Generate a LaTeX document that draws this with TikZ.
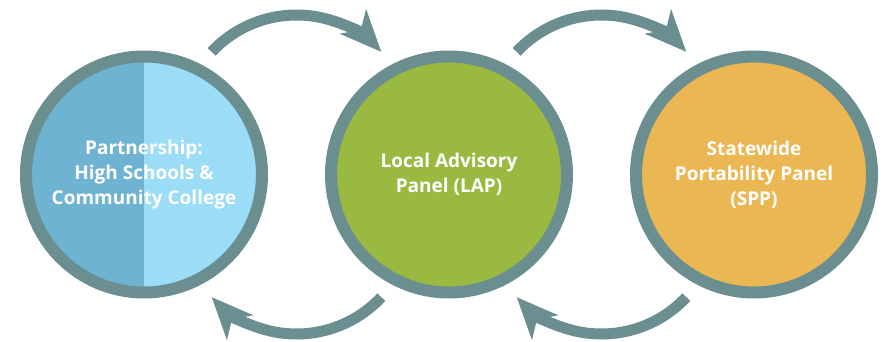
\documentclass[tikz,border=0pt]{standalone}
\usepackage{fontspec}
\setmainfont{Open Sans}
\usetikzlibrary{positioning,calc,arrows.meta}
\definecolor{ringgrey}{HTML}{6B8E91}
\definecolor{hsdark}{HTML}{6FB3D2}
\definecolor{hslight}{HTML}{9BDCF6}
\definecolor{lapgreen}{HTML}{9AB941}
\definecolor{sppgold}{HTML}{EBB752}

\begin{document}
\begin{tikzpicture}[x=1pt, y=1pt,
    panel/.style={circle, draw=ringgrey, line width=12pt, minimum size=236pt, inner sep=0pt,
        text=white, align=center, font=\bfseries\fontsize{19}{25}\selectfont},
    flow/.style={draw=ringgrey, line width=11pt, -{Stealth[length=41pt, width=35pt, inset=11pt]}}]
    \useasboundingbox (0,0) rectangle (886,341);

    % Panels
    \node[panel, fill=hslight, path picture={
        \fill[hsdark] (path picture bounding box.south west) rectangle (path picture bounding box.north);}]
        (hs) at (144,166.5) {Partnership:\\High Schools \&\\Community College};
    \node[panel, fill=lapgreen, right=57pt of hs] (lap) {Local Advisory\\Panel (LAP)};
    \node[panel, fill=sppgold, right=57pt of lap] (spp) {Statewide\\Portability Panel\\(SPP)};

    % Forward arrows (top)
    \draw[flow] ($(hs)!0.5!(lap)+(0,43.5)$) ++(137:116) arc[start angle=137, end angle=43, radius=116];
    \draw[flow] ($(lap)!0.5!(spp)+(0,43.5)$) ++(137:116) arc[start angle=137, end angle=43, radius=116];

    % Feedback arrows (bottom)
    \draw[flow] ($(hs)!0.5!(lap)+(0,-43.5)$) ++(-43:116) arc[start angle=-43, end angle=-137, radius=116];
    \draw[flow] ($(lap)!0.5!(spp)+(0,-43.5)$) ++(-43:116) arc[start angle=-43, end angle=-137, radius=116];
\end{tikzpicture}
\end{document}
